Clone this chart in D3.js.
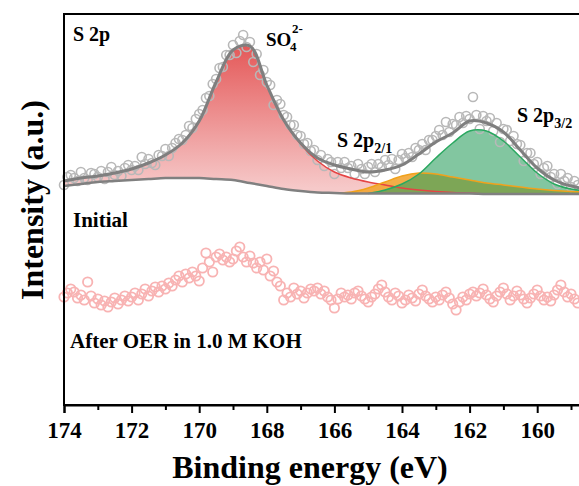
<!DOCTYPE html>
<html>
<head>
<meta charset="utf-8">
<style>
  body { margin: 0; background: #fff; }
  text { font-family: "Liberation Serif", "Times New Roman", serif; font-weight: bold; fill: #000; }
</style>
</head>
<body>
<svg width="579" height="486"></svg>
<script src="https://d3js.org/d3.v7.min.js"></script>
<script>

var fitEnergy = [174, 173.5, 173, 172.5, 172, 171.5, 171, 170.5, 170, 169.5, 169, 168.5, 168, 167.5, 167, 166.5,
                 166, 165.5, 165, 164.5, 164, 163.5, 163, 162.5, 162, 161.5, 161, 160.5, 160, 159.5, 159, 158.5];
var envelope   = [319, 322, 324, 327, 331, 337, 345, 357, 379, 418, 450, 454, 415, 380, 357, 342,
                  335, 331, 328, 330, 335, 346, 358, 367, 379, 377, 368, 350, 332, 320, 314, 311];
var background = [314, 316, 318, 319, 320, 321, 322, 322, 322, 321, 320, 317, 314, 311, 309, 307.5,
                  307, 306.5, 306.5, 306.5, 306.5, 306.5, 306.5, 306.5, 306.5, 306, 306, 306, 306, 306, 306, 306];
var so4        = [319, 322, 324, 327, 331, 337, 345, 357, 379, 418, 450, 454, 415, 380, 356, 339,
                  328, 322, 318, 315, 312, 310, 308.5, 307.5, 307, 306, null, null, null, null, null, null];
var s2p21      = [null, null, null, null, null, null, null, null, null, null, null, null, null, null, null, null,
                  307, 308, 312, 318, 324, 327, 326, 323, 320, 317, 315, 313, 311, 309.5, 308.5, 308];
var s2p32      = [null, null, null, null, null, null, null, null, null, null, null, null, null, null, null, null,
                  null, null, 306.5, 310, 316, 326, 342, 357, 369, 369, 359, 343, 327, 316, 311, 309];

// measured points, 174.0 eV downwards in 0.1 eV steps
var scanStart = 174, scanStep = 0.1;
var initialCounts = [315, 323, 325, 322, 319, 328, 322, 320, 327, 326, 323, 329, 321, 328, 333, 325, 329, 324, 332, 335,
  330, 334, 330, 343, 336, 341, 337, 335, 345, 344, 351, 344, 352, 357, 361, 360, 365, 374, 372, 381,
  386, 390, 402, 404, 416, 421, 432, 433, 445, 445, 455, 447, 459, 465, 453, 458, 438, 446, 425, 430,
  418, 415, 395, 400, 396, 385, 383, 375, 375, 365, 364, 356, 357, 349, 350, 340, 345, 334, 341, 338,
  326, 338, 332, 338, 332, 334, 326, 336, 331, 326, 333, 336, 328, 336, 333, 340, 335, 341, 331, 340,
  346, 342, 347, 343, 352, 350, 356, 350, 360, 360, 364, 370, 365, 378, 368, 376, 375, 383, 377, 384,
  381, 403, 385, 371, 384, 379, 382, 369, 377, 358, 371, 370, 359, 364, 356, 355, 339, 347, 347, 336,
  338, 326, 332, 334, 323, 326, 316, 326, 319, 322, 313, 319, 315];
var oerCounts = [203, 207, 211, 208, 202, 205, 200, 218, 204, 197, 201, 195, 199, 193, 198, 202, 196, 200, 204, 199,
  203, 207, 200, 206, 211, 204, 209, 213, 208, 214, 211, 217, 214, 220, 224, 218, 226, 222, 228, 224,
  219, 232, 247, 238, 228, 243, 246, 240, 243, 238, 241, 249, 253, 243, 238, 244, 237, 232, 238, 230,
  241, 224, 229, 218, 214, 200, 207, 203, 212, 206, 209, 202, 207, 211, 209, 212, 206, 209, 203, 200,
  192, 201, 207, 203, 205, 201, 207, 209, 204, 201, 198, 203, 206, 211, 215, 208, 203, 200, 207, 204,
  197, 200, 205, 202, 199, 206, 210, 204, 201, 198, 203, 200, 205, 208, 202, 196, 190, 198, 203, 200,
  206, 208, 204, 207, 211, 205, 201, 198, 204, 208, 212, 206, 200, 204, 209, 205, 201, 197, 202, 206,
  210, 204, 200, 203, 199, 205, 210, 215, 208, 203, 206, 201, 197];

var majorTicks = [174, 172, 170, 168, 166, 164, 162, 160];
var minorTicks = [173, 171, 169, 167, 165, 163, 161, 159];

var svg = d3.select("svg"),
    plotLeft = 64, plotTop = 14, plotBottom = 405,
    pxPerEv = 33.8;

var x = d3.scaleLinear().domain([174, 158]).range([plotLeft, plotLeft + 16 * pxPerEv]);
var y = d3.scaleLinear().domain([100, 500]).range([400, 0]);

var fit = fitEnergy.map(function(e, i) {
  return {e: e, env: envelope[i], bg: background[i], so4: so4[i], p21: s2p21[i], p32: s2p32[i]};
});

var defs = svg.append("defs");
var grad = defs.append("linearGradient")
    .attr("id", "redfill")
    .attr("gradientUnits", "userSpaceOnUse")
    .attr("x1", 0).attr("x2", 0)
    .attr("y1", y(457)).attr("y2", y(312));
grad.append("stop").attr("offset", "0%").attr("stop-color", "#e45757");
grad.append("stop").attr("offset", "100%").attr("stop-color", "#f6c9c9");

function band(key) {
  return d3.area()
      .defined(function(d) { return d[key] != null; })
      .curve(d3.curveCatmullRom)
      .x(function(d) { return x(d.e); })
      .y0(function(d) { return y(d.bg); })
      .y1(function(d) { return y(d[key]); });
}
function curve(key) {
  return d3.line()
      .defined(function(d) { return d[key] != null; })
      .curve(d3.curveCatmullRom)
      .x(function(d) { return x(d.e); })
      .y(function(d) { return y(d[key]); });
}

// component fills
svg.append("path").datum(fit).attr("d", band("so4")).attr("fill", "url(#redfill)");
svg.append("path").datum(fit).attr("d", band("p21")).attr("fill", "#f2a534").attr("fill-opacity", 0.9);
svg.append("path").datum(fit).attr("d", band("p32")).attr("fill", "#2fa060").attr("fill-opacity", 0.6);

// measured points
function scanEnergy(i) { return scanStart - i * scanStep; }

svg.append("g").selectAll("circle")
    .data(initialCounts)
  .enter().append("circle")
    .attr("cx", function(d, i) { return x(scanEnergy(i)); })
    .attr("cy", function(d) { return y(d); })
    .attr("r", 4.5)
    .attr("fill", "none")
    .attr("stroke", "#b8b8b8")
    .attr("stroke-width", 1.6);

svg.append("g").selectAll("circle")
    .data(oerCounts)
  .enter().append("circle")
    .attr("cx", function(d, i) { return x(scanEnergy(i)); })
    .attr("cy", function(d) { return y(d); })
    .attr("r", 4.7)
    .attr("fill", "none")
    .attr("stroke", "#f8b3b3")
    .attr("stroke-width", 1.8);

// component outlines, background and envelope
svg.append("path").datum(fit).attr("d", curve("so4")).attr("fill", "none").attr("stroke", "#e54444").attr("stroke-width", 1.5);
svg.append("path").datum(fit).attr("d", curve("p21")).attr("fill", "none").attr("stroke", "#f0a21c").attr("stroke-width", 1.5);
svg.append("path").datum(fit).attr("d", curve("p32")).attr("fill", "none").attr("stroke", "#2aa860").attr("stroke-width", 1.5);
svg.append("path").datum(fit).attr("d", curve("bg")).attr("fill", "none").attr("stroke", "#808080").attr("stroke-width", 2.5);
svg.append("path").datum(fit).attr("d", curve("env")).attr("fill", "none").attr("stroke", "#7f7f7f").attr("stroke-width", 3);

// frame
svg.append("rect")
    .attr("x", plotLeft).attr("y", plotTop)
    .attr("width", 16 * pxPerEv).attr("height", plotBottom - plotTop)
    .attr("fill", "none").attr("stroke", "#000").attr("stroke-width", 2);

// x axis
var ax = svg.append("g")
    .attr("transform", "translate(0," + plotBottom + ")")
    .call(d3.axisBottom(x).tickValues(majorTicks).tickSize(8).tickFormat(d3.format("d")));
ax.select(".domain").attr("stroke-width", 2);
ax.selectAll(".tick line").attr("stroke-width", 2);
ax.selectAll(".tick text")
    .attr("y", 17)
    .style("font-family", "'Liberation Serif', 'Times New Roman', serif")
    .style("font-weight", "bold")
    .style("font-size", "23px");

var axm = svg.append("g")
    .attr("transform", "translate(0," + plotBottom + ")")
    .call(d3.axisBottom(x).tickValues(minorTicks).tickSize(5).tickFormat(""));
axm.select(".domain").remove();
axm.selectAll(".tick line").attr("stroke-width", 2);

// axis titles
svg.append("text")
    .attr("x", 310).attr("y", 478)
    .attr("text-anchor", "middle")
    .style("font-size", "32px")
    .text("Binding energy (eV)");

svg.append("text")
    .attr("transform", "translate(43,200) rotate(-90)")
    .attr("text-anchor", "middle")
    .style("font-size", "32px")
    .text("Intensity (a.u.)");

// annotations
svg.append("text").attr("x", 73).attr("y", 41).style("font-size", "20px").text("S 2p");

var so = svg.append("text").attr("x", 266).attr("y", 46).style("font-size", "19px");
so.append("tspan").text("SO");
so.append("tspan").attr("x", 290).attr("dy", 5).style("font-size", "13px").text("4");
so.append("tspan").attr("x", 292).attr("dy", -18).style("font-size", "13px").text("2-");

var p21 = svg.append("text").attr("x", 337).attr("y", 147).style("font-size", "20px");
p21.append("tspan").text("S 2p");
p21.append("tspan").attr("dy", 6).style("font-size", "14px").text("2/1");

var p32 = svg.append("text").attr("x", 517).attr("y", 122).style("font-size", "20px");
p32.append("tspan").text("S 2p");
p32.append("tspan").attr("dy", 6).style("font-size", "14px").text("3/2");

svg.append("text").attr("x", 73).attr("y", 227).style("font-size", "21px").text("Initial");
svg.append("text").attr("x", 70).attr("y", 348).style("font-size", "21px").text("After OER in 1.0 M KOH");

</script>
</body>
</html>
